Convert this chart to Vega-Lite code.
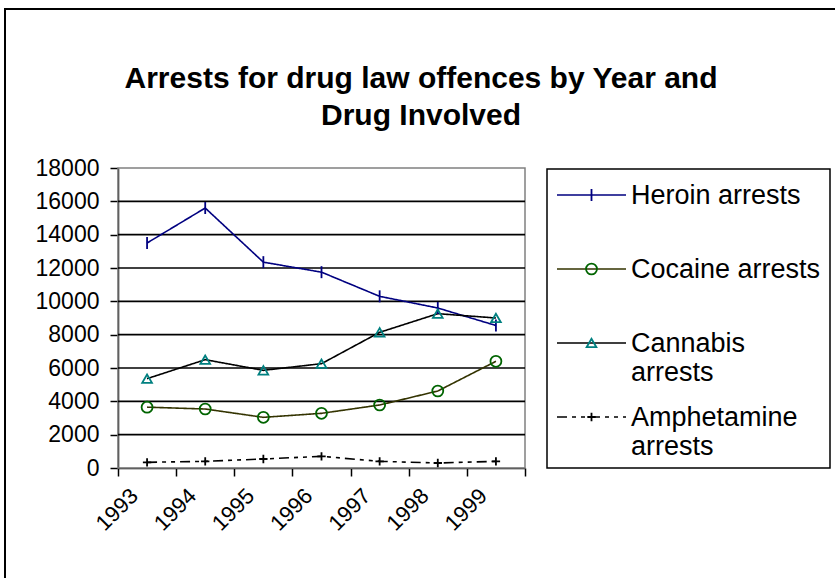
{
  "$schema": "https://vega.github.io/schema/vega-lite/v6.json",
  "width": 832,
  "height": 571,
  "autosize": {"type": "none"},
  "padding": {"left": 5, "top": 9, "right": 0, "bottom": 0},
  "background": "white",
  "config": {
    "view": {"stroke": "black", "strokeWidth": 2},
    "font": "Liberation Sans",
    "axis": {"labelFont": "Liberation Sans", "labelColor": "black", "domainColor": "black", "tickColor": "black", "domainWidth": 1.5, "tickWidth": 1.5, "grid": false, "title": null, "labelOverlap": false, "labelFlush": false},
    "text": {"font": "Liberation Sans"}
  },
  "title": {
    "text": ["Arrests for drug law offences by Year and", "Drug Involved"],
    "font": "Liberation Sans", "fontSize": 30, "fontWeight": "bold", "color": "black",
    "anchor": "middle", "frame": "group", "baseline": "top", "offset": -57, "dy": 65, "lineHeight": 37
  },
  "datasets": {
    "arrests": [
      {"year": 1993, "series": "Heroin arrests", "value": 13500},
      {"year": 1994, "series": "Heroin arrests", "value": 15600},
      {"year": 1995, "series": "Heroin arrests", "value": 12350},
      {"year": 1996, "series": "Heroin arrests", "value": 11750},
      {"year": 1997, "series": "Heroin arrests", "value": 10300},
      {"year": 1998, "series": "Heroin arrests", "value": 9600},
      {"year": 1999, "series": "Heroin arrests", "value": 8550},
      {"year": 1993, "series": "Cocaine arrests", "value": 3650},
      {"year": 1994, "series": "Cocaine arrests", "value": 3540},
      {"year": 1995, "series": "Cocaine arrests", "value": 3040},
      {"year": 1996, "series": "Cocaine arrests", "value": 3280},
      {"year": 1997, "series": "Cocaine arrests", "value": 3780},
      {"year": 1998, "series": "Cocaine arrests", "value": 4620},
      {"year": 1999, "series": "Cocaine arrests", "value": 6400},
      {"year": 1993, "series": "Cannabis arrests", "value": 5360},
      {"year": 1994, "series": "Cannabis arrests", "value": 6500},
      {"year": 1995, "series": "Cannabis arrests", "value": 5860},
      {"year": 1996, "series": "Cannabis arrests", "value": 6260},
      {"year": 1997, "series": "Cannabis arrests", "value": 8140},
      {"year": 1998, "series": "Cannabis arrests", "value": 9260},
      {"year": 1999, "series": "Cannabis arrests", "value": 9000},
      {"year": 1993, "series": "Amphetamine arrests", "value": 340},
      {"year": 1994, "series": "Amphetamine arrests", "value": 400},
      {"year": 1995, "series": "Amphetamine arrests", "value": 540},
      {"year": 1996, "series": "Amphetamine arrests", "value": 700},
      {"year": 1997, "series": "Amphetamine arrests", "value": 400},
      {"year": 1998, "series": "Amphetamine arrests", "value": 300},
      {"year": 1999, "series": "Amphetamine arrests", "value": 400}
    ],
    "grid": [{"v": 2000}, {"v": 4000}, {"v": 6000}, {"v": 8000}, {"v": 10000}, {"v": 12000}, {"v": 14000}, {"v": 16000}],
    "legend": [
      {"series": "Heroin arrests", "label": ["Heroin arrests"]},
      {"series": "Cocaine arrests", "label": ["Cocaine arrests"]},
      {"series": "Cannabis arrests", "label": ["Cannabis", "arrests"]},
      {"series": "Amphetamine arrests", "label": ["Amphetamine", "arrests"]}
    ],
    "one": [{"k": 1}]
  },
  "layer": [
    {
      "layer": [
        {
          "data": {"name": "one"},
          "mark": {"type": "rect", "fillOpacity": 0, "stroke": "#808080", "strokeWidth": 1.5},
          "encoding": {
            "x": {"datum": 1992.5, "type": "quantitative",
              "scale": {"domain": [1992.5, 1999.5], "range": [113, 520], "nice": false, "zero": false},
              "axis": {"orient": "bottom", "offset": -112, "values": [1992.5, 1993.5, 1994.5, 1995.5, 1996.5, 1997.5, 1998.5, 1999.5], "tickSize": 8,
                "labelExpr": "datum.value < 1999 ? '' + (datum.value + 0.5) : ''", "labelFontSize": 22,
                "labelAngle": -45, "labelAlign": "right", "labelBaseline": "middle", "labelOffset": 16, "labelPadding": 16}},
            "x2": {"datum": 1999.5},
            "y": {"datum": 0, "type": "quantitative",
              "scale": {"domain": [0, 18000], "range": [459, 159], "nice": false, "zero": true},
              "axis": {"orient": "left", "offset": -113, "values": [0, 2000, 4000, 6000, 8000, 10000, 12000, 14000, 16000, 18000], "tickSize": 8, "labelPadding": 11, "labelFontSize": 23, "format": "d"}},
            "y2": {"datum": 18000}
          }
        },
        {
          "data": {"name": "grid"},
          "mark": {"type": "rule", "color": "black", "strokeWidth": 1.6},
          "encoding": {
            "x": {"datum": 1992.5, "type": "quantitative", "scale": {"domain": [1992.5, 1999.5], "range": [113, 520], "nice": false, "zero": false}},
            "x2": {"datum": 1999.5},
            "y": {"field": "v", "type": "quantitative", "scale": {"domain": [0, 18000], "range": [459, 159], "nice": false, "zero": true}}
          }
        },
        {
          "data": {"name": "arrests"},
          "mark": {"type": "line"},
          "encoding": {
            "x": {"field": "year", "type": "quantitative", "scale": {"domain": [1992.5, 1999.5], "range": [113, 520], "nice": false, "zero": false}},
            "y": {"field": "value", "type": "quantitative", "scale": {"domain": [0, 18000], "range": [459, 159], "nice": false, "zero": true}},
            "stroke": {"field": "series", "type": "nominal", "legend": null,
              "scale": {"domain": ["Heroin arrests", "Cocaine arrests", "Cannabis arrests", "Amphetamine arrests"], "range": ["#000080", "#333300", "#000000", "#000000"]}},
            "strokeDash": {"field": "series", "type": "nominal", "legend": null,
              "scale": {"domain": ["Heroin arrests", "Cocaine arrests", "Cannabis arrests", "Amphetamine arrests"], "range": [[1, 0], [1, 0], [1, 0], [10, 5, 4, 5, 4, 5]]}},
            "strokeWidth": {"field": "series", "type": "ordinal", "legend": null,
              "scale": {"domain": ["Heroin arrests", "Cocaine arrests", "Cannabis arrests", "Amphetamine arrests"], "range": [1.6, 1.6, 1.6, 3]}}
          }
        },
        {
          "data": {"name": "arrests"},
          "mark": {"type": "point", "filled": false, "strokeWidth": 1.8, "opacity": 1},
          "encoding": {
            "x": {"field": "year", "type": "quantitative", "scale": {"domain": [1992.5, 1999.5], "range": [113, 520], "nice": false, "zero": false}},
            "y": {"field": "value", "type": "quantitative", "scale": {"domain": [0, 18000], "range": [459, 159], "nice": false, "zero": true}},
            "shape": {"field": "series", "type": "nominal", "legend": null,
              "scale": {"domain": ["Heroin arrests", "Cocaine arrests", "Cannabis arrests", "Amphetamine arrests"], "range": ["M0,-1V1", "circle", "triangle-up", "M-1,0H1M0,-1V1"]}},
            "color": {"field": "series", "type": "nominal", "legend": null,
              "scale": {"domain": ["Heroin arrests", "Cocaine arrests", "Cannabis arrests", "Amphetamine arrests"], "range": ["#000080", "#006400", "#008080", "#000000"]}},
            "size": {"field": "series", "type": "ordinal", "legend": null,
              "scale": {"domain": ["Heroin arrests", "Cocaine arrests", "Cannabis arrests", "Amphetamine arrests"], "range": [144, 70, 120, 160]}}
          }
        }
      ]
    },
    {
      "data": {"name": "one"},
      "mark": {"type": "rect", "fill": "white", "stroke": "black", "strokeWidth": 1.5},
      "encoding": {
        "x": {"datum": 0, "type": "quantitative", "scale": {"domain": [0, 1], "range": [542, 825], "nice": false, "zero": false}, "axis": null},
        "x2": {"datum": 1},
        "y": {"datum": 0, "type": "quantitative", "scale": {"domain": [0, 1], "range": [160, 459], "nice": false, "zero": false}, "axis": null},
        "y2": {"datum": 1}
      }
    },
    {
      "data": {"name": "legend"},
      "encoding": {
        "y": {"field": "series", "type": "nominal", "axis": null,
          "scale": {"type": "point", "domain": ["Heroin arrests", "Cocaine arrests", "Cannabis arrests", "Amphetamine arrests"], "range": [186, 408], "padding": 0}}
      },
      "layer": [
        {
          "mark": {"type": "rule"},
          "encoding": {
            "x": {"datum": 0, "type": "quantitative", "scale": {"domain": [0, 1], "range": [552, 621], "nice": false, "zero": false}, "axis": null},
            "x2": {"datum": 1},
            "stroke": {"field": "series", "type": "nominal", "legend": null,
              "scale": {"domain": ["Heroin arrests", "Cocaine arrests", "Cannabis arrests", "Amphetamine arrests"], "range": ["#000080", "#333300", "#000000", "#000000"]}},
            "strokeDash": {"field": "series", "type": "nominal", "legend": null,
              "scale": {"domain": ["Heroin arrests", "Cocaine arrests", "Cannabis arrests", "Amphetamine arrests"], "range": [[1, 0], [1, 0], [1, 0], [10, 5, 4, 5, 4, 5]]}},
            "strokeWidth": {"field": "series", "type": "ordinal", "legend": null,
              "scale": {"domain": ["Heroin arrests", "Cocaine arrests", "Cannabis arrests", "Amphetamine arrests"], "range": [1.6, 1.6, 1.6, 3]}}
          }
        },
        {
          "mark": {"type": "point", "filled": false, "strokeWidth": 1.8, "opacity": 1},
          "encoding": {
            "x": {"datum": 0.5, "type": "quantitative", "scale": {"domain": [0, 1], "range": [552, 621], "nice": false, "zero": false}, "axis": null},
            "shape": {"field": "series", "type": "nominal", "legend": null,
              "scale": {"domain": ["Heroin arrests", "Cocaine arrests", "Cannabis arrests", "Amphetamine arrests"], "range": ["M0,-1V1", "circle", "triangle-up", "M-1,0H1M0,-1V1"]}},
            "color": {"field": "series", "type": "nominal", "legend": null,
              "scale": {"domain": ["Heroin arrests", "Cocaine arrests", "Cannabis arrests", "Amphetamine arrests"], "range": ["#000080", "#006400", "#008080", "#000000"]}},
            "size": {"field": "series", "type": "ordinal", "legend": null,
              "scale": {"domain": ["Heroin arrests", "Cocaine arrests", "Cannabis arrests", "Amphetamine arrests"], "range": [144, 70, 120, 160]}}
          }
        },
        {
          "mark": {"type": "text", "align": "left", "baseline": "alphabetic", "dx": 5, "dy": 9, "fontSize": 27, "lineHeight": 29, "color": "black", "font": "Liberation Sans"},
          "encoding": {
            "x": {"datum": 1, "type": "quantitative", "scale": {"domain": [0, 1], "range": [552, 621], "nice": false, "zero": false}, "axis": null},
            "text": {"field": "label", "type": "nominal"}
          }
        }
      ]
    }
  ],
  "resolve": {"scale": {"x": "independent", "y": "independent"}}
}
